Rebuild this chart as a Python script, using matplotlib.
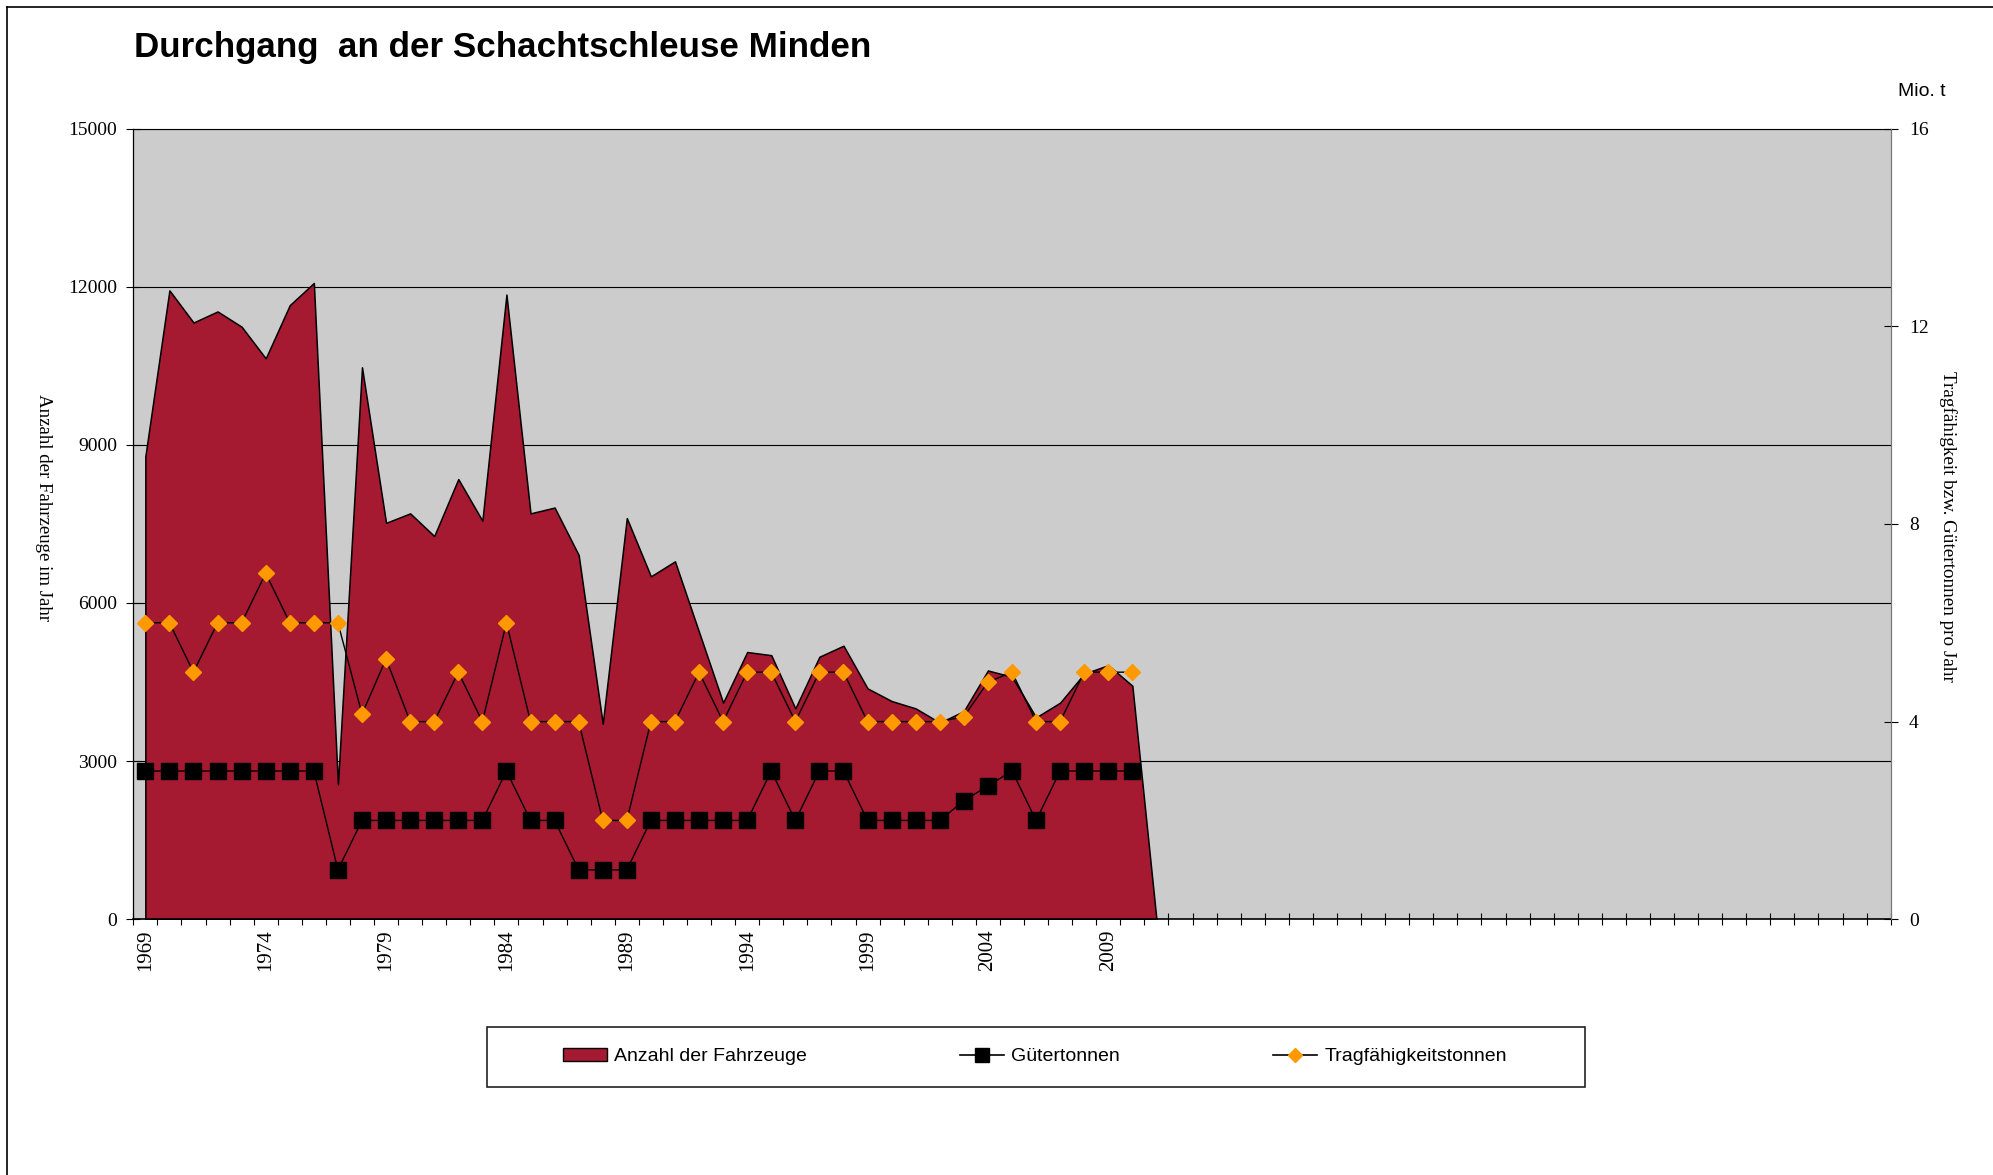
import numpy as np
import matplotlib
matplotlib.use('agg')
import matplotlib.pyplot as plt
from matplotlib.patches import Patch, Rectangle
from matplotlib.lines import Line2D

# data
years = list(range(1969, 2012))
fahrzeuge = [8780, 11930, 11320, 11530, 11240, 10640, 11650, 12070, 2560, 10470,
             7520, 7700, 7270, 8350, 7560, 11850, 7700, 7810, 6910, 3710,
             7610, 6505, 6790, 5450, 4110, 5070, 5010, 4000, 4980, 5190,
             4380, 4140, 4000, 3730, 3950, 4720, 4600, 3830, 4110, 4660,
             4820, 4430, 0]
guetertonnen = [3, 3, 3, 3, 3, 3, 3, 3, 1, 2,
                2, 2, 2, 2, 2, 3, 2, 2, 1, 1,
                1, 2, 2, 2, 2, 2, 3, 2, 3, 3,
                2, 2, 2, 2, 2.4, 2.7, 3, 2, 3, 3,
                3, 3, np.nan]
tragfaehigkeit = [6, 6, 5, 6, 6, 7, 6, 6, 6, 4.15,
                  5.27, 4, 4, 5, 4, 6, 4, 4, 4, 2,
                  2, 4, 4, 5, 4, 5, 5, 4, 5, 5,
                  4, 4, 4, 4, 4.1, 4.8, 5, 4, 4, 5,
                  5, 5, np.nan]
n_slots = 73  # category slots on the x axis (rest of them empty)
label_years = [1969, 1974, 1979, 1984, 1989, 1994, 1999, 2004, 2009]
left_ticks = [0, 3000, 6000, 9000, 12000, 15000]
right_ticks = [0, 4, 8, 12, 16]

crimson = '#a51931'
orange = '#ff9900'
serif = 'Liberation Serif'
sans = 'Liberation Sans'

W, H = 1993, 1175
fig = plt.figure(figsize=(W / 100, H / 100), dpi=100)

ax = fig.add_axes([133.3 / W, 1 - 919.3 / H, (1890.7 - 133.3) / W, (919.3 - 128.5) / H])
ax.set_facecolor('#cccccc')
x = np.arange(len(years))
ax.fill_between(x, 0, fahrzeuge, facecolor=crimson, edgecolor='black', linewidth=1.1, zorder=2)
ax.set_xlim(-0.5, n_slots - 0.5)
ax.set_ylim(0, 15000)
ax.set_axisbelow(True)
ax.yaxis.grid(True, color='black', linewidth=0.8)
ax.set_yticks(left_ticks)
ax.set_yticklabels([str(v) for v in left_ticks], fontsize=14, family=serif)
ax.tick_params(axis='y', direction='inout', length=10, pad=6.5, width=0.8)

ax.set_xticks(np.arange(-0.5, n_slots, 1), minor=True)
ax.tick_params(axis='x', which='minor', direction='inout', length=9, width=0.8)
ax.set_xticks([years.index(y) for y in label_years])
ax.set_xticklabels([str(y) for y in label_years], rotation=90, fontsize=15, family=serif)
ax.tick_params(axis='x', which='major', length=0, pad=7)

for s in ['left', 'bottom', 'top']:
    ax.spines[s].set_color('black')
ax.spines['bottom'].set_linewidth(1.2)
ax.spines['left'].set_linewidth(0.9)
ax.spines['top'].set_linewidth(0.8)
ax.spines['right'].set_color('#777777')

ax2 = ax.twinx()
ax2.plot(x, guetertonnen, color='black', linewidth=1.0, marker='s', markersize=11.5,
         markerfacecolor='black', markeredgecolor='black')
ax2.plot(x, tragfaehigkeit, color='black', linewidth=1.0, marker='D', markersize=8.6,
         markerfacecolor=orange, markeredgecolor=orange)
ax2.set_ylim(0, 16)
ax2.set_yticks(right_ticks)
ax2.set_yticklabels([str(v) for v in right_ticks], fontsize=14, family=serif)
ax2.tick_params(axis='y', direction='inout', length=10, pad=8, width=0.8)
ax2.spines['right'].set_color('#777777')
ax2.spines['top'].set_visible(False)
ax2.spines['left'].set_visible(False)
ax2.spines['bottom'].set_visible(False)

# texts
fig.text(134 / W, 1 - 56.5 / H, 'Durchgang  an der Schachtschleuse Minden',
         fontsize=25.2, fontweight='bold', family=sans, ha='left', va='baseline')
fig.text(1898 / W, 1 - 96 / H, 'Mio. t', fontsize=14, family=sans, ha='left', va='baseline')
fig.text(43 / W, 1 - 508 / H, 'Anzahl der Fahrzeuge im Jahr', fontsize=13.6, family=serif,
         rotation=270, ha='center', va='center')
fig.text(1948 / W, 1 - 526 / H, 'Tragfähigkeit bzw. Gütertonnen pro Jahr', fontsize=13.8,
         family=serif, rotation=270, ha='center', va='center')

# legend
handles = [Patch(facecolor=crimson, edgecolor='black', linewidth=1.0),
           Line2D([], [], color='black', linewidth=1.2, marker='s', markersize=10,
                  markerfacecolor='black', markeredgecolor='black'),
           Line2D([], [], color='black', linewidth=1.2, marker='D', markersize=7.5,
                  markerfacecolor=orange, markeredgecolor=orange)]
fig.legend(handles, ['Anzahl der Fahrzeuge', 'Gütertonnen', 'Tragfähigkeitstonnen'],
           loc='center', bbox_to_anchor=(1035 / W, 1 - 1056.5 / H), ncol=3, frameon=False,
           prop={'family': sans, 'size': 14}, handlelength=2.26, handletextpad=0.38,
           columnspacing=7.87, handleheight=0.65)
fig.patches.append(Rectangle((486.7 / W, 1 - 1086.7 / H), (1585 - 486.7) / W, 60 / H,
                             transform=fig.transFigure, fill=False, edgecolor='#222222',
                             linewidth=1.2))

# chart border (left and top visible)
fig.add_artist(Line2D([7 / W, 7 / W], [0, 1 - 7 / H], color='black', linewidth=1.2,
                      transform=fig.transFigure))
fig.add_artist(Line2D([7 / W, 1], [1 - 7 / H, 1 - 7 / H], color='black', linewidth=1.2,
                      transform=fig.transFigure))

fig.savefig('out.png', dpi=100)
